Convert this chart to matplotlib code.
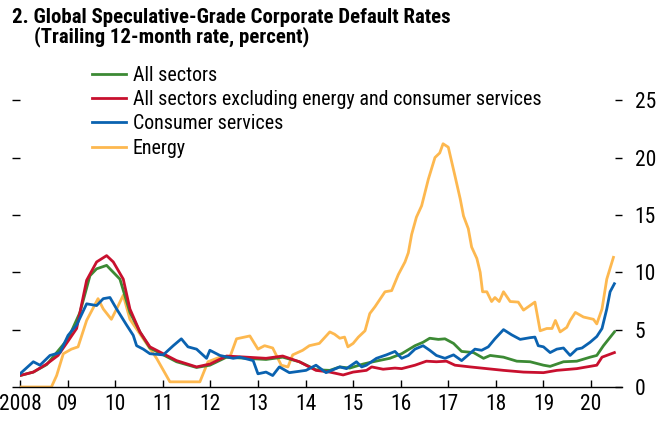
import matplotlib
matplotlib.use("Agg")
import matplotlib.pyplot as plt
from matplotlib.lines import TICKLEFT

plt.rcParams["font.family"] = ["Roboto Condensed", "Liberation Sans", "DejaVu Sans"]

# --- data (years as decimal, values in percent) ---
all_years = [2008.00, 2008.28, 2008.56, 2009.01, 2009.26, 2009.47, 2009.61, 2009.82, 2009.96,
             2010.10, 2010.31, 2010.52, 2010.73, 2011.01, 2011.29, 2011.71, 2011.99, 2012.34,
             2012.76, 2013.17, 2013.52, 2013.87, 2014.22, 2014.51, 2014.72, 2014.93, 2015.21,
             2015.42, 2015.77, 2016.02, 2016.30, 2016.47, 2016.61, 2016.79, 2016.93, 2017.11,
             2017.28, 2017.53, 2017.74, 2017.88, 2018.16, 2018.44, 2018.72, 2019.00, 2019.14,
             2019.42, 2019.70, 2019.98, 2020.12, 2020.26, 2020.49]
all_vals = [1.0, 1.3, 1.95, 4.2, 6.5, 9.7, 10.3, 10.6, 10.0,
            9.4, 6.5, 4.8, 3.4, 2.8, 2.2, 1.7, 1.9, 2.6,
            2.5, 2.4, 2.6, 2.2, 1.5, 1.45, 1.75, 1.65, 2.0,
            2.2, 2.5, 2.9, 3.6, 3.9, 4.25, 4.15, 4.2, 3.8,
            3.1, 3.0, 2.5, 2.75, 2.6, 2.25, 2.2, 1.9, 1.8,
            2.2, 2.25, 2.6, 2.75, 3.6, 4.8]

excl_years = [2008.00, 2008.28, 2008.56, 2008.80, 2009.01, 2009.19, 2009.40, 2009.61, 2009.82,
              2009.96, 2010.17, 2010.31, 2010.52, 2010.73, 2011.01, 2011.29, 2011.71, 2011.99,
              2012.34, 2012.76, 2013.17, 2013.52, 2013.87, 2014.22, 2014.51, 2014.79, 2015.00,
              2015.28, 2015.39, 2015.63, 2015.88, 2016.02, 2016.30, 2016.54, 2016.75, 2016.96,
              2017.14, 2017.46, 2017.81, 2018.16, 2018.58, 2019.00, 2019.28, 2019.70, 2019.98,
              2020.12, 2020.23, 2020.49]
excl_vals = [1.0, 1.3, 2.0, 2.75, 4.0, 5.1, 9.3, 10.9, 11.45,
             10.9, 9.4, 6.8, 4.8, 3.5, 2.9, 2.3, 1.75, 2.0,
             2.7, 2.6, 2.5, 2.7, 2.2, 1.45, 1.3, 1.05, 1.3,
             1.45, 1.75, 1.55, 1.65, 1.6, 1.9, 2.25, 2.2, 2.25,
             1.9, 1.75, 1.6, 1.45, 1.3, 1.25, 1.45, 1.6, 1.8,
             1.9, 2.6, 3.0]

cons_years = [2008.00, 2008.28, 2008.42, 2008.63, 2008.84, 2009.01, 2009.19, 2009.40, 2009.61,
              2009.75, 2009.89, 2010.03, 2010.24, 2010.38, 2010.45, 2010.59, 2010.73, 2011.01,
              2011.22, 2011.39, 2011.53, 2011.71, 2011.92, 2011.99, 2012.20, 2012.48, 2012.62,
              2012.90, 2013.00, 2013.17, 2013.31, 2013.45, 2013.66, 2014.01, 2014.22, 2014.43,
              2014.72, 2014.86, 2015.00, 2015.07, 2015.18, 2015.28, 2015.49, 2015.70, 2015.88,
              2016.02, 2016.16, 2016.30, 2016.47, 2016.61, 2016.75, 2016.93, 2017.11, 2017.28,
              2017.56, 2017.70, 2017.84, 2017.98, 2018.16, 2018.33, 2018.51, 2018.72, 2018.82,
              2018.89, 2019.00, 2019.14, 2019.28, 2019.42, 2019.56, 2019.70, 2019.81, 2019.98,
              2020.12, 2020.23, 2020.33, 2020.40, 2020.49]
cons_vals = [1.15, 2.2, 1.9, 2.75, 3.0, 4.5, 5.4, 7.25, 7.1,
             7.7, 7.8, 6.8, 5.4, 4.5, 3.6, 3.3, 2.9, 2.8,
             3.6, 4.2, 3.5, 3.3, 2.5, 3.2, 2.75, 2.5, 2.6,
             2.3, 1.15, 1.3, 1.0, 1.75, 1.25, 1.45, 1.9, 1.25,
             1.75, 1.6, 2.0, 2.2, 1.75, 1.9, 2.5, 2.8, 3.1,
             2.5, 2.75, 3.3, 3.6, 3.2, 2.75, 2.5, 2.8, 2.3,
             3.3, 3.2, 3.5, 4.2, 5.0, 4.55, 4.15, 4.3, 4.35,
             3.6, 3.5, 3.0, 3.3, 3.4, 2.75, 3.3, 3.4, 3.9,
             4.4, 5.1, 6.8, 8.3, 9.0]

energy_years = [2008.00, 2008.66, 2008.77, 2008.91, 2009.08, 2009.22, 2009.40, 2009.64, 2009.75,
                2009.92, 2010.03, 2010.17, 2010.31, 2010.59, 2010.87, 2011.15, 2011.78, 2011.95,
                2012.20, 2012.41, 2012.55, 2012.83, 2013.00, 2013.14, 2013.31, 2013.49, 2013.63,
                2013.73, 2013.94, 2014.08, 2014.29, 2014.51, 2014.61, 2014.72, 2014.82, 2014.89,
                2015.00, 2015.11, 2015.25, 2015.35, 2015.46, 2015.67, 2015.81, 2015.95, 2016.09,
                2016.16, 2016.23, 2016.33, 2016.44, 2016.58, 2016.72, 2016.82, 2016.89, 2017.00,
                2017.14, 2017.25, 2017.32, 2017.42, 2017.49, 2017.60, 2017.67, 2017.72, 2017.81,
                2017.91, 2017.98, 2018.07, 2018.16, 2018.30, 2018.47, 2018.58, 2018.82, 2018.93,
                2019.07, 2019.18, 2019.25, 2019.35, 2019.49, 2019.56, 2019.67, 2019.84, 2020.05,
                2020.12, 2020.23, 2020.33, 2020.47]
energy_vals = [0.0, 0.0, 1.0, 2.9, 3.3, 3.5, 5.8, 7.7, 6.8,
               5.9, 6.8, 8.0, 5.9, 4.2, 2.5, 0.45, 0.45, 2.2,
               2.6, 2.6, 4.2, 4.45, 3.3, 3.6, 3.4, 1.9, 1.75,
               2.8, 3.2, 3.6, 3.8, 4.8, 4.6, 4.25, 4.35, 3.5,
               3.8, 4.35, 4.9, 6.4, 7.0, 8.3, 8.4, 9.8, 10.9,
               11.7, 13.3, 14.8, 15.8, 18.1, 20.0, 20.4, 21.2, 20.9,
               18.4, 16.4, 14.9, 13.8, 12.2, 11.2, 10.0, 8.3, 8.3,
               7.45, 7.8, 7.45, 8.3, 7.45, 7.4, 6.7, 7.4, 4.9,
               5.1, 5.1, 5.8, 4.8, 5.2, 5.8, 6.5, 6.1, 5.9,
               5.5, 6.8, 9.4, 11.3]

year_ticks = list(range(2008, 2021))
year_labels = ["2008"] + ["%02d" % (y % 100) for y in range(2009, 2021)]
y_ticks = [0, 5, 10, 15, 20, 25]

GREEN = "#3c8a34"
RED = "#c8102e"
BLUE = "#0a62b0"
ORANGE = "#fdb84f"

fig = plt.figure(figsize=(6.56, 4.22), dpi=100)
ax = fig.add_axes([20 / 656, 35 / 422, 602 / 656, 327 / 422])

lw = 2.0
ax.plot(all_years, all_vals, color=GREEN, lw=lw, label="All sectors", zorder=3)
ax.plot(excl_years, excl_vals, color=RED, lw=lw,
        label="All sectors excluding energy and consumer services", zorder=4)
ax.plot(cons_years, cons_vals, color=BLUE, lw=lw, label="Consumer services", zorder=5)
ax.plot(energy_years, energy_vals, color=ORANGE, lw=lw, label="Energy", zorder=2)

ax.set_xlim(2008, 2020.65)
ax.set_ylim(0, 28.5)

for s in ["top", "left", "right"]:
    ax.spines[s].set_visible(False)
ax.spines["bottom"].set_linewidth(1.0)

ax.set_xticks(year_ticks)
ax.set_xticklabels(year_labels)
ax.tick_params(axis="x", direction="in", length=5, width=1, pad=5, labelsize=15.5)

ax.set_yticks(y_ticks)
ax.tick_params(axis="y", left=True, right=True, labelleft=False,
               labelright=True, labelsize=15.5, width=1, direction="out", length=6, pad=3)
# right ticks sit inside the plot, just left of their labels
for t in ax.yaxis.get_major_ticks():
    t.tick2line.set_marker(TICKLEFT)
    t.tick2line.set_markersize(5)

leg = ax.legend(loc="upper left", bbox_to_anchor=(92 / 656, 1 - 66 / 422),
                bbox_transform=fig.transFigure, frameon=False, fontsize=14.4,
                handlelength=1.7, handletextpad=0.35, labelspacing=0.26,
                borderpad=0, borderaxespad=0)

fig.text(12 / 656, 1 - 23.3 / 422, "2. Global Speculative-Grade Corporate Default Rates",
         fontsize=15, fontweight="bold", va="baseline", ha="left")
fig.text(34 / 656, 1 - 42 / 422, "(Trailing 12-month rate, percent)",
         fontsize=15, fontweight="bold", va="baseline", ha="left")

fig.savefig("out.png", dpi=100)
